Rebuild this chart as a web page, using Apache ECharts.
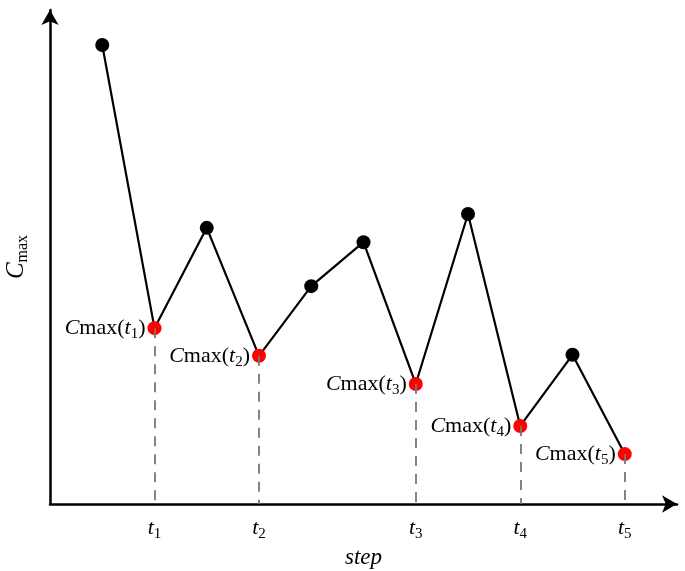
<!DOCTYPE html>
<html>
<head>
<meta charset="utf-8">
<script src="https://cdn.jsdelivr.net/npm/echarts@6/dist/echarts.min.js"></script>
<style>
  html, body { margin: 0; padding: 0; background: #fff; }
  #chart { width: 685px; height: 571px; }
</style>
</head>
<body>
<div id="chart"></div>
<script>
// data
var steps = [1, 2, 3, 4, 5, 6, 7, 8, 9, 10, 11];
var cmax = [92.9, 35.6, 55.9, 30.0, 44.1, 53.0, 24.3, 58.7, 15.8, 30.2, 10.1];
var tSteps = [2, 4, 7, 9, 11];
var tLabels = ['1', '2', '3', '4', '5'];

var serif = 'Liberation Serif';
var chart = echarts.init(document.getElementById('chart'));

var points = steps.map(function (s, i) {
  var isT = tSteps.indexOf(s) >= 0;
  return {
    value: [s, cmax[i]],
    itemStyle: { color: isT ? '#ff0000' : '#000000' },
    label: { show: isT }
  };
});

var dropLines = tSteps.map(function (s) {
  var v = cmax[steps.indexOf(s)];
  return [{ coord: [s, v] }, { coord: [s, 0] }];
});

chart.setOption({
  animation: false,
  grid: { left: 50, right: 8, top: 10, bottom: 67, outerBoundsMode: 'none', containLabel: false },
  xAxis: {
    type: 'value',
    min: 0,
    max: 12,
    name: 'step',
    nameLocation: 'middle',
    nameGap: 41,
    nameTextStyle: { fontFamily: serif, fontStyle: 'italic', fontSize: 23, color: '#000' },
    splitLine: { show: false },
    axisLine: { lineStyle: { color: '#000', width: 2.5 }, symbol: ['none', 'arrow'], symbolSize: [13, 15] },
    axisTick: { show: false },
    axisLabel: {
      customValues: tSteps,
      margin: 11,
      formatter: function (v) {
        return '{i|t}{s|' + tLabels[tSteps.indexOf(v)] + '}';
      },
      rich: {
        i: { fontFamily: serif, fontStyle: 'italic', fontSize: 22, color: '#000' },
        s: { fontFamily: serif, fontSize: 15, color: '#000', padding: [12, 0, 0, 0] }
      }
    }
  },
  yAxis: {
    type: 'value',
    min: 0,
    max: 100,
    name: '{i|C}{s|max}',
    nameLocation: 'middle',
    nameRotate: 90,
    nameGap: 19,
    nameTextStyle: {
      rich: {
        i: { fontFamily: serif, fontStyle: 'italic', fontSize: 25, color: '#000' },
        s: { fontFamily: serif, fontSize: 16, color: '#000', padding: [14, 0, 0, 0] }
      }
    },
    splitLine: { show: false },
    axisLine: { lineStyle: { color: '#000', width: 2.5 }, symbol: ['none', 'arrow'], symbolSize: [13, 15] },
    axisTick: { show: false },
    axisLabel: { show: false }
  },
  series: [{
    type: 'line',
    data: points,
    symbol: 'circle',
    symbolSize: 14,
    lineStyle: { color: '#000', width: 2.2 },
    z: 3,
    label: {
      position: 'left',
      distance: 2,
      formatter: function (p) {
        var k = tSteps.indexOf(p.value[0]);
        return '{i|C}{n|max(}{i|t}{s|' + tLabels[k] + '}{n|)}';
      },
      rich: {
        i: { fontFamily: serif, fontStyle: 'italic', fontSize: 22, color: '#000' },
        n: { fontFamily: serif, fontSize: 22, color: '#000' },
        s: { fontFamily: serif, fontSize: 15, color: '#000', padding: [12, 0, 0, 0] }
      }
    },
    markLine: {
      silent: true,
      symbol: 'none',
      label: { show: false },
      lineStyle: { color: '#777', type: [10, 8], width: 1.8 },
      data: dropLines
    }
  }]
});
</script>
</body>
</html>
